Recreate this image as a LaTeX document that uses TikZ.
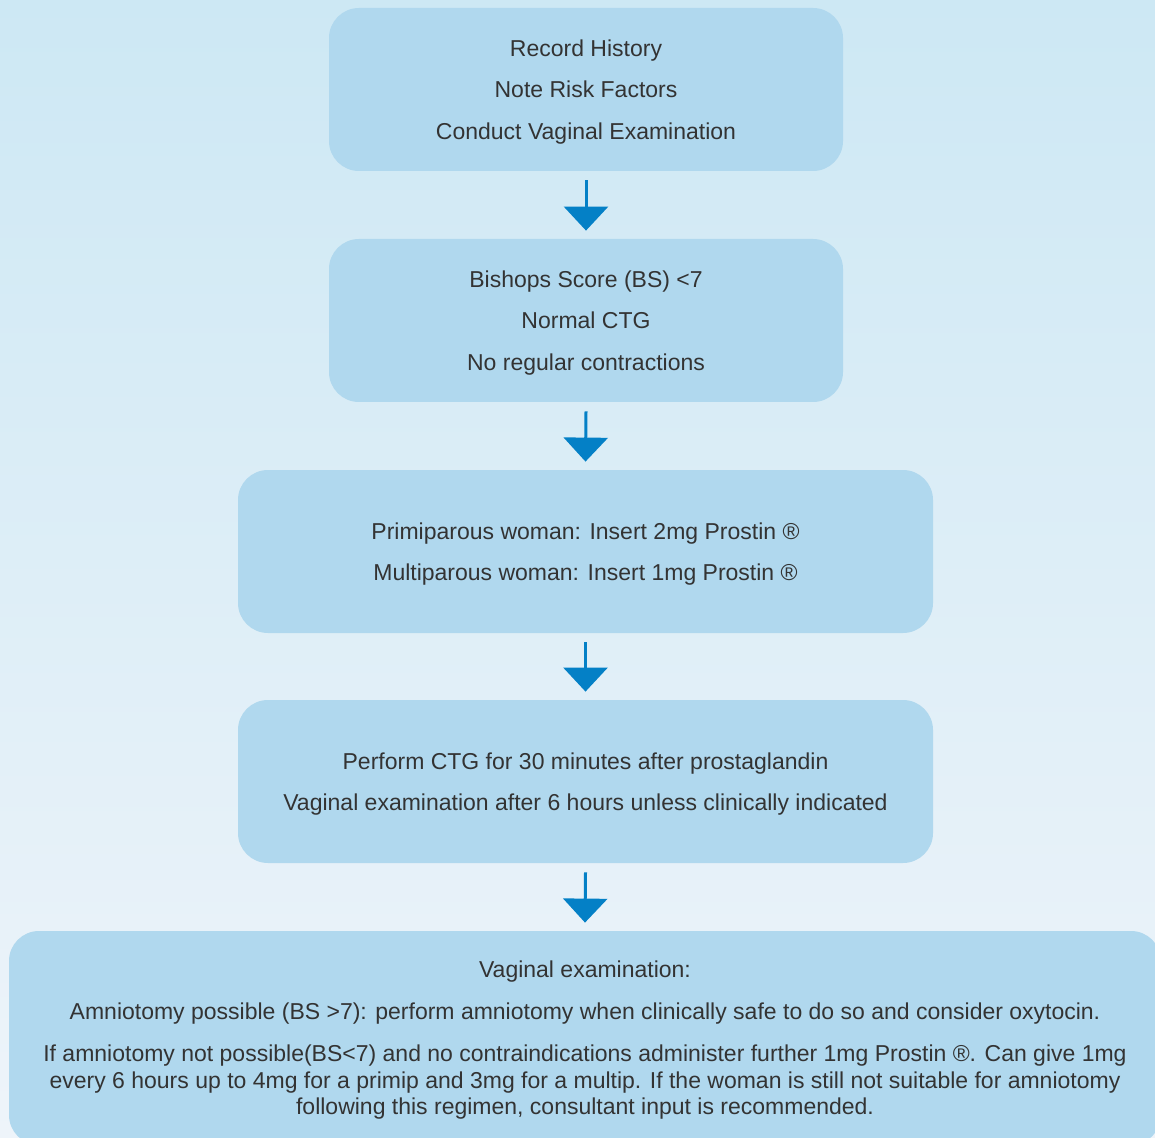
\documentclass[tikz,border=0pt]{standalone}
\usepackage{fontspec}
\setmainfont{Liberation Sans}
\usetikzlibrary{arrows.meta}
\definecolor{bgtop}{HTML}{CDE8F4}
\definecolor{bgbottom}{HTML}{EEF4FA}
\definecolor{boxfill}{HTML}{B0D8EE}
\definecolor{arrowblue}{HTML}{0480C6}
\definecolor{textgray}{HTML}{333333}
\begin{document}
\begin{tikzpicture}[x=0.5pt, y=-0.5pt,
        stepbox/.style={fill=boxfill, rounded corners=15pt, minimum height=81.5pt, inner sep=0pt, text depth=0pt, align=center, text=textgray, font=\fontsize{11.5}{20.75}\selectfont},
        flowarrow/.style={draw=arrowblue, line width=1.5pt, -{Triangle[width=22pt,length=12pt]}}]
        \useasboundingbox (0,0) rectangle (1155,1138);
        \clip (0,0) rectangle (1155,1138);
        \shade[top color=bgtop, bottom color=bgbottom] (0,0) rectangle (1155,1138); %background

        \node[stepbox, minimum width=257pt] (history) at (586,89.5) {Record History\\Note Risk Factors\\Conduct Vaginal Examination}; %history
        \node[stepbox, minimum width=257pt] (bishops) at (586,320.5) {Bishops Score (BS) <7\\Normal CTG\\No regular contractions}; %bishops
        \node[stepbox, minimum width=347.5pt] (prostin) at (585.5,551.5) {Primiparous woman: Insert 2mg Prostin ®\\Multiparous woman: Insert 1mg Prostin ®}; %prostin
        \node[stepbox, minimum width=347.5pt] (ctg) at (585.5,781.5) {Perform CTG for 30 minutes after prostaglandin\\Vaginal examination after 6 hours unless clinically indicated}; %ctg
        \node[stepbox, minimum width=576pt, minimum height=107pt, font=\fontsize{11.5}{13.25}\selectfont] (exam) at (585,1038) {Vaginal examination:\\[7.75pt]Amniotomy possible (BS >7): perform amniotomy when clinically safe to do so and consider oxytocin.\\[7.75pt]If amniotomy not possible(BS<7) and no contraindications administer further 1mg Prostin ®. Can give 1mg\\every 6 hours up to 4mg for a primip and 3mg for a multip. If the woman is still not suitable for amniotomy\\following this regimen, consultant input is recommended.}; %exam

        \draw[flowarrow] ([yshift=-4.5pt]history.south) -- ([yshift=4pt]bishops.north);
        \draw[flowarrow] ([yshift=-4.5pt]bishops.south) -- ([yshift=4pt]prostin.north);
        \draw[flowarrow] ([yshift=-4.5pt]prostin.south) -- ([yshift=4pt]ctg.north);
        \draw[flowarrow] ([yshift=-4.5pt]ctg.south) -- ([yshift=4pt]exam.north);
    \end{tikzpicture}
\end{document}
